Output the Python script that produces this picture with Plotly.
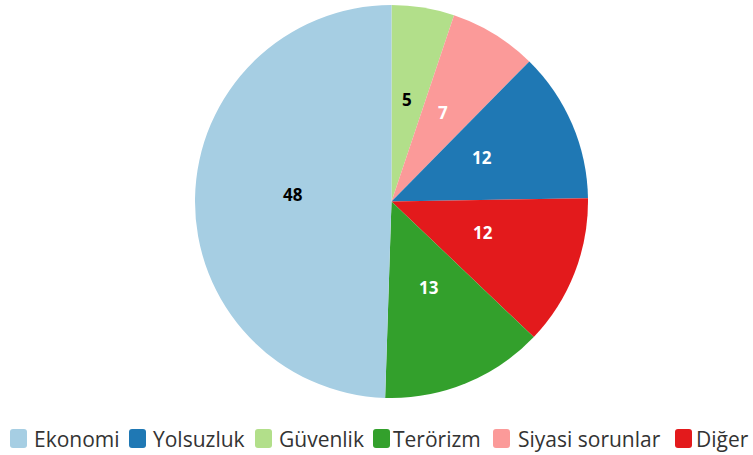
import math
import plotly.graph_objects as go

# slice order, clockwise from 12 o'clock
pie_labels = ["Güvenlik", "Siyasi sorunlar", "Yolsuzluk", "Diğer", "Terörizm", "Ekonomi"]
pie_values = [5, 7, 12, 12, 13, 48]

# legend order
legend_labels = ["Ekonomi", "Yolsuzluk", "Güvenlik", "Terörizm", "Siyasi sorunlar", "Diğer"]

colors = {
    "Ekonomi": "#a6cee3",
    "Yolsuzluk": "#1f78b4",
    "Güvenlik": "#b2df8a",
    "Terörizm": "#33a02c",
    "Siyasi sorunlar": "#fb9a99",
    "Diğer": "#e31a1c",
}
text_colors = {
    "Ekonomi": "black",
    "Yolsuzluk": "white",
    "Güvenlik": "black",
    "Terörizm": "white",
    "Siyasi sorunlar": "white",
    "Diğer": "white",
}

W, H = 753, 455
CX, CY, R = 391.5, 201.5, 196.5  # pie centre / radius in pixels


def px_x(p):
    return p / W


def px_y(p):
    return 1 - p / H


fig = go.Figure()
fig.add_trace(go.Pie(
    labels=pie_labels,
    values=pie_values,
    sort=False,
    direction="clockwise",
    rotation=0,
    marker=dict(colors=[colors[l] for l in pie_labels], line=dict(width=0)),
    textinfo="none",
    showlegend=False,
    hoverinfo="label+value",
    domain=dict(x=[px_x(CX - R), px_x(CX + R)], y=[px_y(CY + R), px_y(CY - R)]),
))

# value labels at half radius, mid-angle of each slice
total = sum(pie_values)
cum = 0
annotations = []
for lab, v in zip(pie_labels, pie_values):
    mid = (cum + v / 2) / total * 2 * math.pi
    cum += v
    x = CX + 0.5 * R * math.sin(mid)
    y = CY - 0.5 * R * math.cos(mid)
    annotations.append(dict(
        x=px_x(x), y=px_y(y), xref="paper", yref="paper",
        text=f"<b>{v}</b>", showarrow=False, yshift=5,
        font=dict(family="Open Sans", size=17, color=text_colors[lab]),
        xanchor="center", yanchor="middle",
    ))

# manual legend (rounded swatches + labels)
swatch_x = [10, 129, 255, 373, 493, 675]
text_x = [32, 151, 277, 391, 516, 694]
shapes = []
sw, top, bot, rr = 17, 429, 448, 3
for lab, sx, tx in zip(legend_labels, swatch_x, text_x):
    x0, x1 = sx, sx + sw
    path = (f"M {px_x(x0 + rr)},{px_y(top)} L {px_x(x1 - rr)},{px_y(top)} "
            f"Q {px_x(x1)},{px_y(top)} {px_x(x1)},{px_y(top + rr)} "
            f"L {px_x(x1)},{px_y(bot - rr)} Q {px_x(x1)},{px_y(bot)} {px_x(x1 - rr)},{px_y(bot)} "
            f"L {px_x(x0 + rr)},{px_y(bot)} Q {px_x(x0)},{px_y(bot)} {px_x(x0)},{px_y(bot - rr)} "
            f"L {px_x(x0)},{px_y(top + rr)} Q {px_x(x0)},{px_y(top)} {px_x(x0 + rr)},{px_y(top)} Z")
    shapes.append(dict(type="path", xref="paper", yref="paper", path=path,
                       fillcolor=colors[lab], line=dict(width=0)))
    annotations.append(dict(
        x=px_x(tx), y=px_y(439), xref="paper", yref="paper",
        text=lab, showarrow=False, xanchor="left", yanchor="middle",
        font=dict(family="Open Sans", size=21, color="#333333"),
    ))

fig.update_layout(
    width=W, height=H,
    margin=dict(l=0, r=0, t=0, b=0),
    paper_bgcolor="white", plot_bgcolor="white",
    showlegend=False,
    annotations=annotations,
    shapes=shapes,
)

fig.write_html("out.html", config={"displayModeBar": False},
               post_script="document.body.style.margin='0';")
